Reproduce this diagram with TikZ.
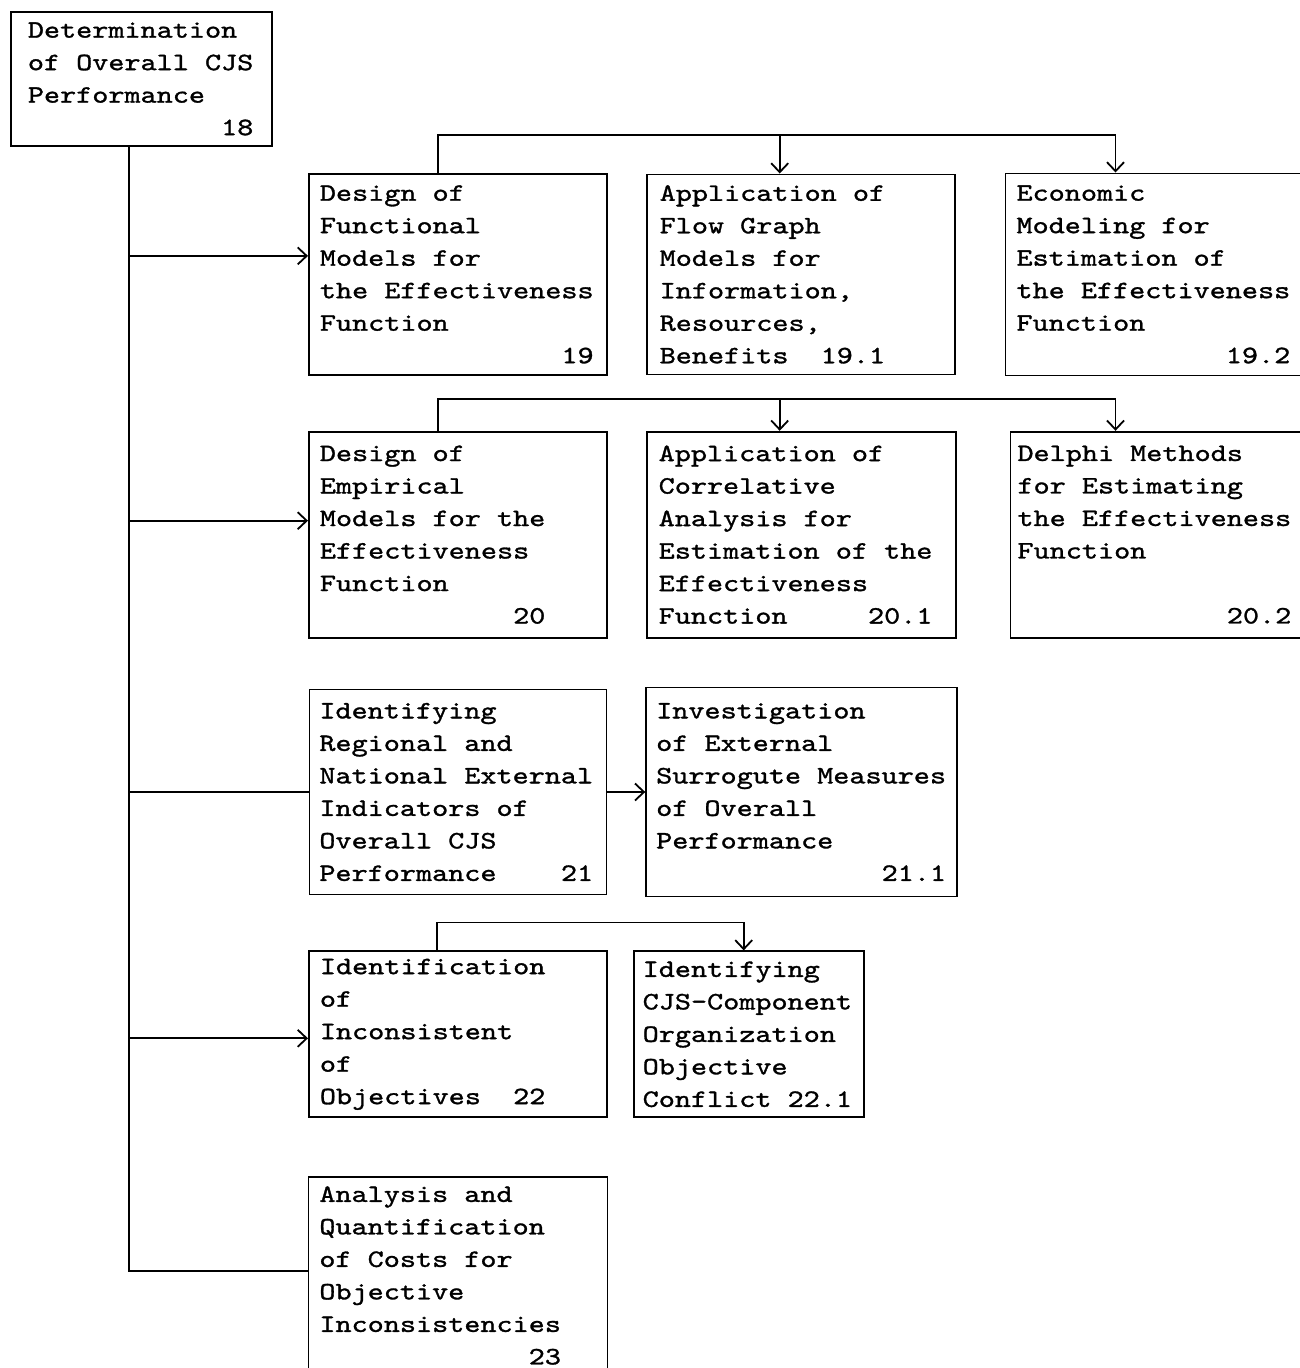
\documentclass[tikz,border=0pt]{standalone}
\usepackage{fontspec}
\newfontfamily\typer{lmmono10-regular}[Extension=.otf,FakeStretch=1.227,FakeBold=1.2]
\newcommand{\typeset}{\typer\fontsize{25}{32.5}\selectfont}
\newcommand{\fixspace}{\spaceskip=\fontcharwd\font`\0\relax \xspaceskip=\spaceskip}
\usepackage{tikz}
\usetikzlibrary{positioning,arrows.meta}
\tikzstyle{line} = [draw, line width=1.8pt]
\tikzstyle{task} = [draw, line width=1.8pt, align=left, inner ysep=0pt, font=\typeset,
  execute at begin node=\fixspace]

\begin{document}
\begin{tikzpicture}[ x=1pt, y=1pt, >={Straight Barb[length=9pt,width=17pt]} ]

\useasboundingbox (0,0) rectangle (1300,-1368);
\clip (0,0) rectangle (1300,-1368);

% tasks
\node (b18) [task,anchor=north west,text width=227pt,inner xsep=17pt,minimum height=134pt] at (10,-11)
  {Determination\\of Overall CJS\\Performance\\\mbox{}~~~~~~~~~~~~18};
\node (b19) [task,anchor=north west,text width=276pt,inner xsep=11pt,minimum height=201pt] at (308,-173)
  {Design of\\Functional\\Models for\\the Effectiveness\\Function\\\mbox{}~~~~~~~~~~~~~~~19};
\node (b191) [task,right=38pt of b19,text width=282pt,inner xsep=13pt,minimum height=200pt]
  {Application of\\Flow Graph\\Models for\\Information,\\Resources,\\Benefits~~19.1};
\node (b192) [task,right=49pt of b191,text width=275pt,inner xsep=11pt,minimum height=202pt]
  {Economic\\Modeling for\\Estimation of\\the Effectiveness\\Function\\\mbox{}~~~~~~~~~~~~~19.2};

\node (b20) [task,below=55pt of b19,text width=276pt,inner xsep=11pt,minimum height=206pt]
  {Design of\\Empirical\\Models for the\\Effectiveness\\Function\\\mbox{}~~~~~~~~~~~~20};
\node (b201) [task,right=38pt of b20,text width=285pt,inner xsep=12pt,minimum height=206pt]
  {Application of\\Correlative\\Analysis for\\Estimation of the\\Effectiveness\\Function~~~~~20.1};
\node (b202) [task,right=53pt of b201,text width=278pt,inner xsep=7pt,minimum height=206pt]
  {Delphi Methods\\for Estimating\\the Effectiveness\\Function\\\mbox{}\\\mbox{}~~~~~~~~~~~~~20.2};

\node (b21) [task,below=50pt of b20,text width=277pt,inner xsep=10pt,minimum height=205pt]
  {Identifying\\Regional and\\National External\\Indicators of\\Overall CJS\\Performance~~~~21};
\node (b211) [task,right=38pt of b21,text width=291pt,inner xsep=10pt,minimum height=209pt]
  {Investigation\\of External\\Surrogute Measures\\of Overall\\Performance\\\mbox{}~~~~~~~~~~~~~~21.1};

\node (b22) [task,below=55pt of b21,text width=276pt,inner xsep=11pt,minimum height=166pt]
  {Identification\\of\\Inconsistent\\of\\Objectives~~22};
\node (b221) [task,right=25pt of b22,text width=212pt,inner xsep=9pt,minimum height=166pt]
  {Identifying\\CJS-Component\\Organization\\Objective\\Conflict~22.1};

\node (b23) [task,below=58pt of b22,text width=277pt,inner xsep=11pt,minimum height=229pt]
  {Analysis and\\Quantification\\of Costs for\\Objective\\Inconsistencies\\\mbox{}~~~~~~~~~~~~~23\\\mbox{}};

% trunk
\coordinate (trunk) at ([xshift=-12.5pt]b18.south);
\coordinate (in19) at ([yshift=18.5pt]b19.west);
\coordinate (in20) at ([yshift=14pt]b20.west);
\coordinate (in22) at ([yshift=-4pt]b22.west);
\coordinate (in23) at ([yshift=21pt]b23.west);
\path[line] (trunk) |- (in23);
\foreach \t in {in19,in20,in22}
  \draw[line,->] (trunk |- \t) -- (\t);
\path[line] (trunk |- b21.west) -- (b21.west);
\draw[line,->] (b21.east) -- (b21.east -| b211.west);

% buses
\coordinate (up19) at ([xshift=-20pt]b19.north);
\coordinate (bus19) at ([yshift=38pt]up19);
\coordinate (dn191) at ([xshift=-21pt]b191.north);
\coordinate (dn192) at ([xshift=-38.5pt]b192.north);
\draw[line,->] (up19) -- (bus19) -| (dn192);
\draw[line,->] (bus19 -| dn191) -- (dn191);

\coordinate (up20) at ([xshift=-20pt]b20.north);
\coordinate (bus20) at ([yshift=32pt]up20);
\coordinate (dn201) at ([xshift=-21.5pt]b201.north);
\coordinate (dn202) at ([xshift=-41pt]b202.north);
\draw[line,->] (up20) -- (bus20) -| (dn202);
\draw[line,->] (bus20 -| dn201) -- (dn201);

\coordinate (up22) at ([xshift=-21pt]b22.north);
\coordinate (bus22) at ([yshift=28pt]up22);
\coordinate (dn221) at ([xshift=-5pt]b221.north);
\draw[line,->] (up22) -- (bus22) -| (dn221);

\end{tikzpicture}
\end{document}
